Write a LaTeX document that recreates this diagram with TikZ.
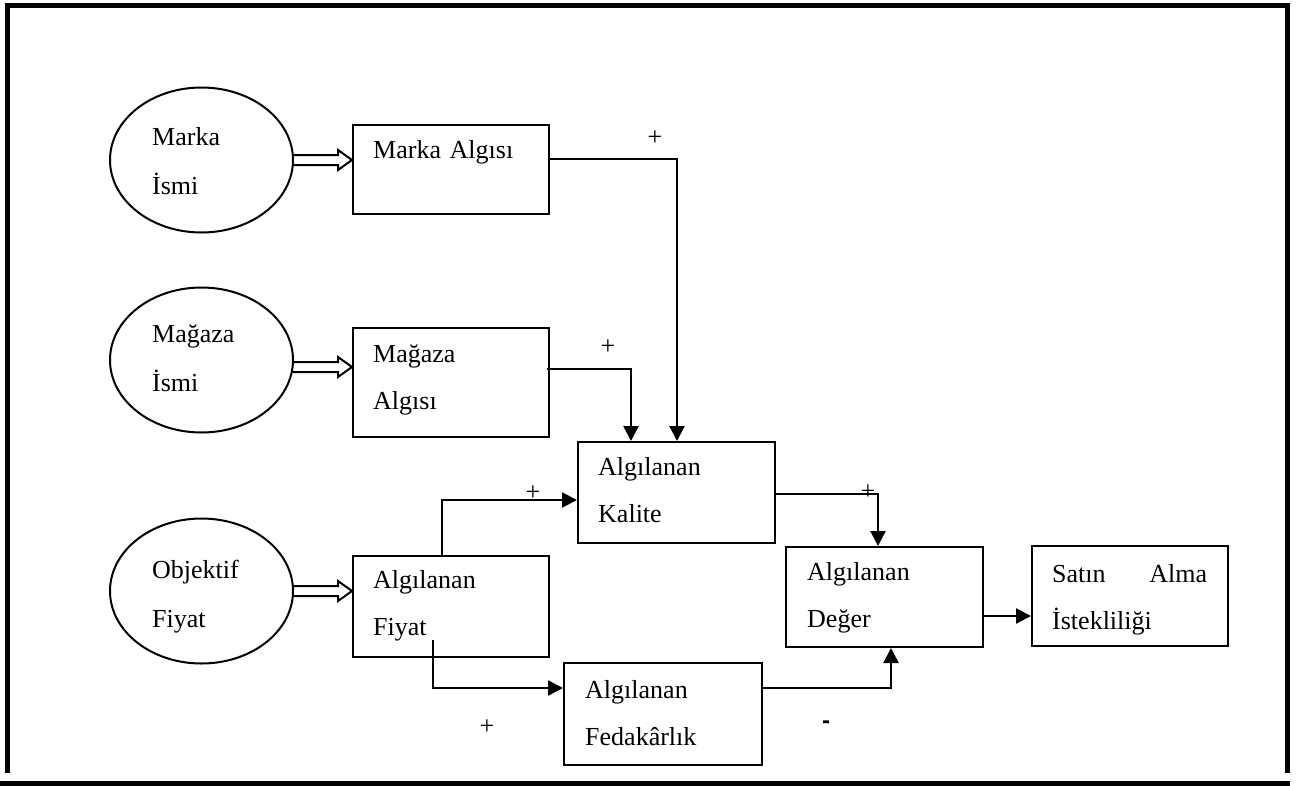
\documentclass[tikz,border=0pt]{standalone}
\usepackage{fontspec}
\setmainfont{Liberation Serif}
\newfontfamily\signfont{Liberation Sans}
\usetikzlibrary{shapes.geometric,arrows.meta,calc}

\begin{document}
\begin{tikzpicture}[x=1pt,y=-1pt,
  frame/.style={line width=4.5pt},
  ell/.style={draw, ellipse, line width=2pt, minimum width=183pt, minimum height=145pt, inner sep=0pt},
  box/.style={draw, rectangle, line width=2pt, inner sep=0pt, anchor=north west},
  txt/.style={anchor=base west, inner sep=0pt, text width=200pt, align=left, font=\fontsize{26}{47}\selectfont},
  etxt/.style={txt, font=\fontsize{26}{49}\selectfont},
  sign/.style={inner sep=0pt, font=\fontsize{26}{30}\selectfont},
  conn/.style={line width=2.3pt},
  arr/.style={conn, -{Triangle[length=15pt, width=15pt]}},
  hollow/.style={line width=2pt, line join=miter}
]
\useasboundingbox (0,0) rectangle (1300,785);

% outer frame
\draw[frame] (7.5,3) -- (7.5,773);
\draw[frame] (5,5.5) -- (1290,5.5);
\draw[frame] (1287.5,3) -- (1287.5,773);
\draw[frame] (0,783.5) -- (1290,783.5);

% source ellipses
\node[ell] (e1) at (201.5,160) {};
\node[ell] (e2) at (201.5,360) {};
\node[ell] (e3) at (201.5,591) {};
\node[etxt] (te1) at (152,145) {Marka\\İsmi};
\node[etxt] (te2) at (152,342) {Mağaza\\İsmi};
\node[etxt] (te3) at (152,578) {Objektif\\Fiyat};

% perception boxes
\node[box, minimum width=196pt, minimum height=89pt]  (r1)  at (352,124) {};
\node[box, minimum width=196pt, minimum height=109pt] (r2)  at (352,327) {};
\node[box, minimum width=197pt, minimum height=101pt] (kal) at (577,441) {};
\node[box, minimum width=196pt, minimum height=101pt] (fiy) at (352,555) {};
\node[box, minimum width=197pt, minimum height=100pt] (deg) at (785,546) {};
\node[box, minimum width=196pt, minimum height=100pt] (sat) at (1031,545) {};
\node[box, minimum width=198pt, minimum height=102pt] (fed) at (563,662) {};

\node[txt] (tr1)  at (373,158)  {Marka Algısı};
\node[txt] (tr2)  at (373,362)  {Mağaza\\Algısı};
\node[txt] (tkal) at (598,475)  {Algılanan\\Kalite};
\node[txt] (tfiy) at (373,588)  {Algılanan\\Fiyat};
\node[txt] (tdeg) at (807,580)  {Algılanan\\Değer};
\node[txt, text width=155pt] (tsat) at (1052,582) {Satın\hfill Alma\\İstekliliği};
\node[txt] (tfed) at (585,698)  {Algılanan\\Fedakârlık};

% hollow block arrows from the ellipses
\draw[hollow] ($(e1.east)+(-1,-5)$) -- ($(e1.east -| r1.west)+(-14,-5)$) -- ($(e1.east -| r1.west)+(-14,-10)$)
  -- (e1.east -| r1.west) -- ($(e1.east -| r1.west)+(-14,10)$) -- ($(e1.east -| r1.west)+(-14,5)$) -- ($(e1.east)+(-1,5)$);
\draw[hollow] ($(e2.east)+(-1,2)$) -- ($(e2.east -| r2.west)+(-14,2)$) -- ($(e2.east -| r2.west)+(-14,-3)$)
  -- ($(e2.east -| r2.west)+(0,7)$) -- ($(e2.east -| r2.west)+(-14,17)$) -- ($(e2.east -| r2.west)+(-14,12)$) -- ($(e2.east)+(-1,12)$);
\draw[hollow] ($(e3.east)+(-1,-5)$) -- ($(e3.east -| fiy.west)+(-14,-5)$) -- ($(e3.east -| fiy.west)+(-14,-10)$)
  -- (e3.east -| fiy.west) -- ($(e3.east -| fiy.west)+(-14,10)$) -- ($(e3.east -| fiy.west)+(-14,5)$) -- ($(e3.east)+(-1,5)$);

% bend points of the connectors
\coordinate (c1) at (677,159);
\coordinate (c2) at (631,369);
\coordinate (c3) at (442,500);
\coordinate (f0) at (433,640);
\coordinate (c4) at (433,688);
\coordinate (c5) at (878,494);
\coordinate (c6) at (891,688);
\coordinate (c7) at (1000,616);

\draw[arr] (c1 -| r1.east) -- (c1) -- (c1 |- kal.north);
\draw[arr] ($(c2 -| r2.east)+(-3,0)$) -- (c2) -- (c2 |- kal.north);
\draw[arr] (c3 |- fiy.north) -- (c3) -- (c3 -| kal.west);
\draw[arr] (f0) -- (c4) -- (c4 -| fed.west);
\draw[arr] (c5 -| kal.east) -- (c5) -- (c5 |- deg.north);
\draw[arr] (c6 -| fed.east) -- (c6) -- (c6 |- deg.south);
\draw[arr] (c7 -| deg.east) -- (c7 -| sat.west);

% signs of the effects
\node[sign] (s1) at (655,138) {+};
\node[sign] (s2) at (608,347) {+};
\node[sign] (s3) at (533,493) {+};
\node[sign] (s4) at (868,492) {+};
\node[sign] (s5) at (487,727) {+};
\node[sign, font=\signfont\bfseries\fontsize{24}{28}\selectfont] (s6) at (826,725) {-};
\end{tikzpicture}
\end{document}
